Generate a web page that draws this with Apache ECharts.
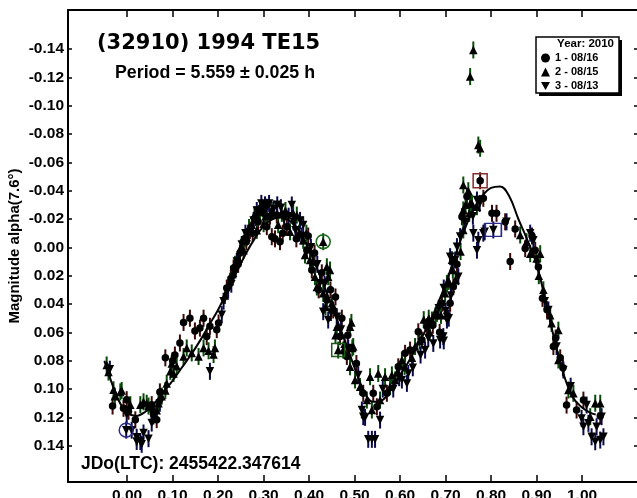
<!DOCTYPE html>
<html><head><meta charset="utf-8">
<script src="https://cdn.jsdelivr.net/npm/echarts@6/dist/echarts.min.js"></script>
<style>html,body{margin:0;padding:0;background:#fff}#c{width:637px;height:498px}</style>
</head><body><div id="c"></div>
<script>
// ---- tick labels ----
const phaseTicks = [0.00,0.10,0.20,0.30,0.40,0.50,0.60,0.70,0.80,0.90,1.00];
const magTicks = [-0.14,-0.12,-0.10,-0.08,-0.06,-0.04,-0.02,0.00,0.02,0.04,0.06,0.08,0.10,0.12,0.14];

// ---- series 1: 08/16 (circles) [phase, magnitude] ----
const session1 = [[-0.032,0.112],[-0.008,0.1136],[-0.001,0.1075],[0.003,0.1157],[0.018,0.1217],[0.054,0.111],[0.058,0.118],[0.065,0.1216],[0.072,0.102],
[0.084,0.078],[0.100,0.080],[0.105,0.076],[0.116,0.0675],[0.124,0.053],[0.138,0.050],[0.149,0.059],[0.160,0.057],[0.168,0.050],[0.175,0.063],[0.182,0.0557],[0.197,0.0581],[0.201,0.0534],
[0.219,0.0287],[0.228,0.022],[0.234,0.0146],[0.244,0.012],[0.248,0.004],[0.258,-0.006],[0.262,-0.004],[0.270,-0.012],[0.276,-0.010],[0.282,-0.021],[0.288,-0.018],[0.296,-0.0283],[0.300,-0.024],
[0.307,-0.0146],[0.314,-0.022],[0.318,-0.0075],[0.325,-0.006],[0.336,-0.004],[0.329,-0.0228],[0.342,-0.010],[0.351,-0.0146],[0.372,-0.006],
[0.395,0.002],[0.398,-0.008],[0.406,0.016],[0.412,0.004],[0.421,0.030],[0.428,0.018],[0.439,0.0371],[0.447,0.030],[0.453,0.0442],[0.458,0.035],[0.468,0.063],[0.472,0.050],[0.483,0.077],[0.485,0.062],[0.504,0.082],[0.519,0.103],
[0.541,0.103],[0.549,0.1125],[0.571,0.103],
[0.596,0.0843],[0.611,0.0748],[0.622,0.0725],[0.640,0.0596],[0.648,0.0654],[0.659,0.056],[0.672,0.055],[0.687,0.060],[0.692,0.0395],[0.710,0.0395],[0.717,0.0278],[0.725,0.012],
[0.736,-0.0216],[0.747,-0.0358],[0.776,-0.047],[0.783,-0.0346],[0.802,-0.024],[0.812,-0.024],[0.831,-0.018],[0.842,0.010],[0.853,-0.013],
[0.875,0.0009],[0.890,-0.008],[0.897,0.002],[0.904,0.0138],[0.913,0.036],[0.923,0.044],[0.937,0.070],[0.942,0.064],[0.952,0.078],[0.958,0.085],[0.966,0.1113],[0.988,0.1148],[1.003,0.1078],[1.040,0.119]];

// ---- series 2: 08/15 (up triangles) ----
const session2 = [[-0.045,0.083],[-0.041,0.088],[-0.030,0.1005],[-0.027,0.105],[-0.015,0.102],[-0.012,0.101],[0.007,0.111],[0.029,0.111],[0.036,0.109],[0.043,0.110],[0.047,0.112],[0.065,0.115],[0.069,0.110],[0.076,0.105],[0.084,0.101],
[0.087,0.096],[0.095,0.0875],[0.098,0.082],[0.102,0.089],[0.109,0.084],[0.124,0.077],[0.131,0.071],[0.142,0.0745],[0.157,0.077],[0.168,0.071],[0.179,0.073],[0.190,0.0757],[0.193,0.071],
[0.215,0.034],[0.226,0.024],[0.233,0.018],[0.237,0.012],[0.245,0.008],[0.250,0.000],[0.256,0.002],[0.263,-0.0073],[0.268,-0.014],[0.274,-0.016],[0.280,-0.023],[0.285,-0.012],[0.292,-0.026],
[0.300,-0.0167],[0.305,-0.022],[0.318,-0.026],[0.332,-0.016],[0.340,-0.024],[0.348,-0.026],[0.358,-0.011],[0.365,-0.024],[0.373,-0.0228],[0.378,-0.010],[0.387,-0.005],[0.394,-0.010],
[0.391,0.0054],[0.402,0.009],[0.409,0.010],[0.413,0.0207],[0.417,0.028],[0.431,-0.004],[0.439,0.0137],[0.442,0.0207],[0.446,0.016],[0.431,0.0324],[0.436,0.042],[0.450,0.0395],[0.461,0.056],[0.458,0.062],[0.464,0.0725],[0.475,0.0725],[0.478,0.068],[0.490,0.056],[0.493,0.053],[0.495,0.071],[0.497,0.070],[0.490,0.0843],[0.501,0.0936],[0.512,0.0983],[0.527,0.1078],
[0.534,0.0913],[0.552,0.089],[0.567,0.0913],[0.538,0.1148],[0.556,0.1078],[0.578,0.0983],[0.582,0.090],
[0.589,0.0936],[0.594,0.088],[0.604,0.0795],[0.610,0.084],[0.626,0.078],[0.633,0.070],[0.643,0.066],[0.652,0.051],[0.663,0.050],[0.665,0.060],[0.670,0.0513],[0.678,0.048],[0.681,0.0466],[0.690,0.048],[0.699,0.0324],[0.703,0.0254],[0.707,0.024],[0.714,0.0087],[0.716,0.016],[0.722,0.0228],[0.733,0.003],
[0.739,-0.044],[0.750,-0.040],[0.754,-0.1205],[0.761,-0.1393],[0.772,-0.0722],[0.776,-0.0699],[0.739,-0.0264],[0.744,-0.030],[0.752,-0.024],[0.758,-0.031],[0.769,-0.0287],[0.754,-0.031],[0.739,-0.0123],
[0.864,-0.0087],[0.878,-0.004],[0.886,0.0045],[0.900,0.0079],[0.905,0.020],[0.908,0.0045],[0.915,0.030],[0.930,0.048],[0.933,0.0536],[0.948,0.0584],[0.948,0.0795],[0.970,0.1007],[0.981,0.103],[1.029,0.110],[1.040,0.110],[1.018,0.1195]];

// ---- series 3: 08/13 (down triangles) ----
const session3 = [[-0.038,0.086],[-0.002,0.129],[-0.001,0.118],[0.010,0.129],[0.021,0.134],[0.021,0.137],[0.029,0.137],[0.032,0.139],[0.036,0.131],[0.047,0.135],[0.054,0.124],[0.054,0.116],[0.058,0.119],[0.072,0.110],
[0.182,0.0875],[0.208,0.0475],[0.212,0.038],[0.222,0.030],[0.229,0.026],[0.238,0.016],[0.241,0.010],[0.252,-0.002],[0.260,-0.010],[0.266,-0.010],[0.278,-0.019],[0.285,-0.026],[0.289,-0.0236],[0.295,-0.031],
[0.303,-0.030],[0.307,-0.0283],[0.312,-0.031],[0.322,-0.027],[0.330,-0.030],[0.338,-0.028],[0.345,-0.020],[0.355,-0.022],[0.362,-0.0299],[0.366,-0.018],[0.370,-0.012],[0.380,-0.019],[0.383,-0.008],[0.387,-0.0157],
[0.404,0.000],[0.418,0.012],[0.424,0.0254],[0.434,0.026],[0.431,0.0454],[0.442,0.0513],[0.448,0.046],[0.461,0.049],[0.470,0.058],[0.486,0.071],[0.508,0.090],[0.516,0.1148],[0.519,0.1195],[0.523,0.120],
[0.530,0.1355],[0.538,0.1355],[0.545,0.1355],[0.556,0.1219],[0.562,0.100],[0.585,0.100],[0.598,0.092],
[0.604,0.0936],[0.615,0.096],[0.618,0.089],[0.628,0.085],[0.645,0.076],[0.655,0.0725],[0.662,0.064],[0.673,0.0678],[0.688,0.0654],[0.695,0.063],[0.696,0.066],[0.703,0.0513],[0.707,0.050],[0.703,0.049],[0.685,0.043],[0.700,0.045],[0.696,0.0287],[0.712,0.034],[0.721,0.009],[0.728,0.0207],[0.710,0.0066],[0.725,-0.0005],
[0.732,-0.0076],[0.742,-0.018],[0.760,-0.022],[0.761,-0.010],[0.772,-0.005],[0.769,0.002],[0.783,-0.010],[0.786,-0.011],[0.805,-0.0123],[0.769,-0.0334],[0.775,-0.031],[0.834,-0.018],
[0.886,-0.010],[0.893,-0.005],[0.918,0.038],[0.926,0.0442],[0.944,0.070],[0.959,0.0866],[0.975,0.098],[0.999,0.1207],[1.003,0.1266],[1.010,0.1113],[1.014,0.1242],[1.021,0.1337],[1.029,0.1372],[1.032,0.1266],[1.040,0.136],[1.043,0.1195],[1.047,0.1337]];

// magnitude error (half bar) per session
const errors = [0.006, 0.006, 0.006];

// ---- highlighted (first) points of each session ----
const circled2 = [[0.431,-0.004]];
const circled3 = [[-0.002,0.129]];
const boxed1 = [[0.776,-0.047]];
const boxed2 = [[0.464,0.0725]];
const boxed3 = [[0.805,-0.0123]];

// ---- Fourier fit curve ----
const fitPhase = [-0.05,-0.04,-0.03,-0.02,-0.01,0.00,0.02,0.04,0.06,0.08,0.10,0.12,0.14,0.16,0.18,0.20,0.22,0.24,0.26,0.28,0.30,0.32,0.34,0.36,0.38,0.40,0.42,0.44,0.46,0.48,0.50,0.52,0.54,0.56,0.58,0.60,0.62,0.64,0.66,0.68,0.70,0.72,0.74,0.76,0.78,0.80,0.82,0.84,0.86,0.88,0.90,0.92,0.94,0.96,0.98,1.00,1.02,1.03];
const fitMag   = [0.080,0.090,0.099,0.107,0.113,0.117,0.119,0.116,0.110,0.102,0.094,0.085,0.076,0.066,0.055,0.044,0.031,0.018,0.005,-0.006,-0.015,-0.020,-0.021,-0.018,-0.011,0.002,0.017,0.033,0.050,0.067,0.085,0.101,0.109,0.108,0.100,0.090,0.080,0.068,0.056,0.042,0.026,0.007,-0.011,-0.026,-0.036,-0.042,-0.043,-0.036,-0.020,-0.005,0.012,0.038,0.066,0.090,0.106,0.113,0.117,0.118];

const labelName = ['1 - 08/16','2 - 08/15','3 - 08/13'];
const downTri = 'path://M0,0L10,0L5,9Z';
const FONT = 'Liberation Sans, Arial, sans-serif';

function errSeries(points, err, color) {
  return {
    type: 'custom', silent: true, z: 2, data: points,
    renderItem: function (params, api) {
      const x = api.value(0), y = api.value(1);
      const a = api.coord([x, y - err]);
      const b = api.coord([x, y + err]);
      return { type: 'line', shape: { x1: a[0], y1: a[1], x2: b[0], y2: b[1] },
               style: { stroke: color, lineWidth: 2 } };
    }
  };
}
function ring(points, symbol, size, color) {
  return { type: 'scatter', data: points, symbol: symbol, symbolSize: size, z: 5, silent: true,
           itemStyle: { color: 'rgba(0,0,0,0)', borderColor: color, borderWidth: 1.5, opacity: 1 } };
}

const chart = echarts.init(document.getElementById('c'), null, { renderer: 'canvas' });
const xMin = -0.13, xMax = 1.123, yMin = -0.1675, yMax = 0.1656;
const axisCommon = { type: 'value', splitLine: { show: false } };
chart.setOption({
  backgroundColor: '#fff',
  animation: false,
  grid: { left: 68, top: 10, right: -1, bottom: 16, containLabel: false, outerBoundsMode: 'none' },
  xAxis: [
    Object.assign({}, axisCommon, { min: xMin, max: xMax, position: 'bottom',
      axisLine: { onZero: false, lineStyle: { color: '#000', width: 2 } },
      axisTick: { inside: true, length: 7, customValues: phaseTicks, lineStyle: { color: '#000', width: 1.5 } },
      axisLabel: { customValues: phaseTicks, formatter: v => v.toFixed(2), color: '#000', fontFamily: FONT, fontWeight: 'bold', fontSize: 15.5, margin: 6 } }),
    Object.assign({}, axisCommon, { min: xMin, max: xMax, position: 'top',
      axisLine: { onZero: false, lineStyle: { color: '#000', width: 2 } },
      axisTick: { inside: true, length: 7, customValues: phaseTicks, lineStyle: { color: '#000', width: 1.5 } },
      axisLabel: { show: false } })
  ],
  yAxis: [
    Object.assign({}, axisCommon, { min: yMin, max: yMax, inverse: true, position: 'left',
      axisLine: { onZero: false, lineStyle: { color: '#000', width: 2 } },
      axisTick: { inside: true, length: 4, customValues: magTicks, lineStyle: { color: '#000', width: 1.5 } },
      axisLabel: { customValues: magTicks, formatter: v => v.toFixed(2), color: '#000', fontFamily: FONT, fontWeight: 'bold', fontSize: 15.5, margin: 4 } }),
    Object.assign({}, axisCommon, { min: yMin, max: yMax, inverse: true, position: 'right',
      axisLine: { onZero: false, lineStyle: { color: '#000', width: 2 } },
      axisTick: { inside: true, length: 4, customValues: magTicks, lineStyle: { color: '#000', width: 1.5 } },
      axisLabel: { show: false } })
  ],
  legend: {
    orient: 'vertical', left: 541, top: 52.5, padding: 0, itemGap: 3, itemWidth: 9, itemHeight: 9,
    selectedMode: false, z: 10,
    itemStyle: { color: '#000', opacity: 1, borderWidth: 0 },
    textStyle: { color: '#000', fontFamily: FONT, fontWeight: 'bold', fontSize: 11 },
    data: [ { name: labelName[0], icon: 'circle' }, { name: labelName[1], icon: 'triangle' }, { name: labelName[2], icon: downTri } ]
  },
  graphic: [
    { type: 'rect', z: 5, shape: { x: 539, y: 40, width: 83, height: 56 }, style: { fill: '#000' } },
    { type: 'rect', z: 6, shape: { x: 536, y: 37, width: 83, height: 56 }, style: { fill: '#fff', stroke: '#000', lineWidth: 1.5 } },
    { type: 'text', z: 7, x: 614, y: 43.5, style: { text: 'Year: 2010', font: 'bold 11.5px ' + FONT, fill: '#000', align: 'right', verticalAlign: 'middle' } },
    { type: 'text', z: 7, x: 97, y: 44, style: { text: '(32910) 1994 TE15', font: 'bold 21px DejaVu Sans, sans-serif', fill: '#000', align: 'left', verticalAlign: 'middle' } },
    { type: 'text', z: 7, x: 115, y: 73, style: { text: 'Period = 5.559 \u00b1 0.025 h', font: 'bold 17.8px ' + FONT, fill: '#000', align: 'left', verticalAlign: 'middle' } },
    { type: 'text', z: 7, x: 81, y: 464, style: { text: 'JDo(LTC): 2455422.347614', font: 'bold 17.5px ' + FONT, fill: '#000', align: 'left', verticalAlign: 'middle' } },
    { type: 'text', z: 7, x: 15, y: 246, rotation: Math.PI / 2, style: { text: 'Magnitude alpha(7.6\u00b0)', font: 'bold 15px ' + FONT, fill: '#000', align: 'center', verticalAlign: 'middle' } }
  ],
  series: [
    errSeries(session1, errors[0], '#3a0a0a'),
    errSeries(session2, errors[1], '#0a4a0a'),
    errSeries(session3, errors[2], '#0a0a4a'),
    { type: 'line', name: 'fit', data: fitPhase.map((p, i) => [p, fitMag[i]]), smooth: 0.4, showSymbol: false, symbol: 'none', silent: true, z: 3,
      lineStyle: { color: '#000', width: 2 } },
    { type: 'scatter', name: labelName[0], data: session1, symbol: 'circle', symbolSize: 7.5, z: 4, itemStyle: { color: '#000', opacity: 1 } },
    { type: 'scatter', name: labelName[1], data: session2, symbol: 'triangle', symbolSize: 8.5, z: 4, itemStyle: { color: '#000', opacity: 1 } },
    { type: 'scatter', name: labelName[2], data: session3, symbol: downTri, symbolSize: 8.5, z: 4, itemStyle: { color: '#000', opacity: 1 } },
    ring(circled2, 'circle', 14, '#1a6a1a'),
    ring(circled3, 'circle', 14, '#2a2a8a'),
    ring(boxed1, 'rect', 14, '#8a2a2a'),
    ring(boxed2, 'rect', 13, '#1a5a1a'),
    ring(boxed3, 'rect', [16, 13], '#2a2a8a')
  ]
});
</script></body></html>
